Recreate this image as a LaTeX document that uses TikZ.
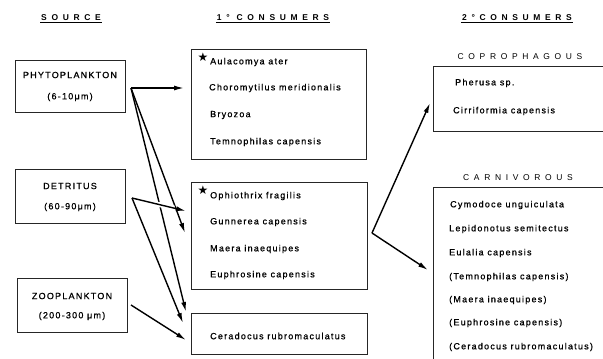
\documentclass[tikz,border=0pt]{standalone}
\usepackage{fontspec}
\setmainfont{Liberation Sans}
\newfontfamily\bodyfont[LetterSpace=14,FakeBold=0.8]{Liberation Sans}
\newfontfamily\headfont[LetterSpace=55]{Liberation Sans}
\newfontfamily\symfont{DejaVu Sans}
\usetikzlibrary{arrows.meta}
\begin{document}
\begin{tikzpicture}[x=1bp,y=-1bp,
  box/.style={draw=black!85,line width=0.9bp,inner sep=0pt},
  txt/.style={inner sep=0pt,font=\bodyfont\fontsize{9}{10}\selectfont},
  spc/.style={txt,anchor=west},
  head/.style={inner sep=1pt,font=\headfont\bfseries\fontsize{8.5}{10}\selectfont},
  subhead/.style={inner sep=1pt,font=\headfont\fontsize{8.5}{10}\selectfont},
  star/.style={inner sep=0pt,font=\symfont\fontsize{12}{13}\selectfont},
  arr/.style={line width=1.4bp,-{Latex[length=10bp,width=5bp]}},
  halo/.style={preaction={draw=white,line width=5bp,-,shorten >=12bp}}]
\useasboundingbox (0,0) rectangle (603,358);
\clip (0,0) rectangle (603,358);
\fill[white] (0,0) rectangle (603,358);

% headings
\node[head] (hsrc) at (71,18) {SOURCE};
\node[head] (hc1) at (273,18) {1° CONSUMERS};
\node[head] (hc2) at (517,18) {2°CONSUMERS};
\foreach \h in {hsrc,hc1,hc2}
  \draw[line width=0.9bp] (\h.south west) -- (\h.south east);

% source boxes
\node[box,minimum width=110bp,minimum height=52bp] (phyto) at (70,86) {};
\node[txt] (phyto1) at (70,75) {PHYTOPLANKTON};
\node[txt] (phyto2) at (70,97) {(6-10μm)};
\node[box,minimum width=110bp,minimum height=54bp] (detr) at (70,196) {};
\node[txt] (detr1) at (70,186) {DETRITUS};
\node[txt] (detr2) at (70,207) {(60-90μm)};
\node[box,minimum width=110bp,minimum height=54bp] (zoo) at (72,305) {};
\node[txt] (zoo1) at (72,296) {ZOOPLANKTON};
\node[txt] (zoo2) at (72,316) {(200-300 μm)};

% primary consumers
\node[box,minimum width=175bp,minimum height=110bp] (c1) at (278.5,104) {};
\node[star] (st1) at (203,57) {★};
\node[spc] (c1a) at (210,62) {Aulacomya ater};
\node[spc] (c1b) at (209,88) {Choromytilus meridionalis};
\node[spc] (c1c) at (210,115) {Bryozoa};
\node[spc] (c1d) at (210,142) {Temnophilas capensis};

\node[box,minimum width=176bp,minimum height=107bp] (c2) at (279,235.5) {};
\node[star] (st2) at (203,190) {★};
\node[spc] (c2a) at (210,196) {Ophiothrix fragilis};
\node[spc] (c2b) at (210,222) {Gunnerea capensis};
\node[spc] (c2c) at (210,249) {Maera inaequipes};
\node[spc] (c2d) at (210,275) {Euphrosine capensis};

\node[box,minimum width=176bp,minimum height=41bp] (c3) at (279,333.5) {};
\node[spc] (c3a) at (210,336) {Ceradocus rubromaculatus};

% secondary consumers
\node[subhead] (hcop) at (520,57) {COPROPHAGOUS};
\node[box,anchor=north west,minimum width=190bp,minimum height=65bp] (cop) at (433,66) {};
\node[spc] (cop1) at (455,83) {Pherusa sp.};
\node[spc] (cop2) at (453,111) {Cirriformia capensis};

\node[subhead] (hcar) at (518,178) {CARNIVOROUS};
\node[box,anchor=north west,minimum width=190bp,minimum height=200bp] (car) at (433,187) {};
\node[spc] (car1) at (450,205) {Cymodoce unguiculata};
\node[spc] (car2) at (449,229) {Lepidonotus semitectus};
\node[spc] (car3) at (449,253) {Eulalia capensis};
\node[spc] (car4) at (449,277) {(Temnophilas capensis)};
\node[spc] (car5) at (449,300) {(Maera inaequipes)};
\node[spc] (car6) at (449,323) {(Euphrosine capensis)};
\node[spc] (car7) at (449,347) {(Ceradocus rubromaculatus)};

% arrow points
\coordinate (po) at (131,88);
\coordinate (do) at (132,198);
\coordinate (zo) at (131,305);
\coordinate (ro) at (372,233);
\coordinate (e1) at (184,88);
\coordinate (e2) at (185,233);
\coordinate (e3) at (186,312);
\coordinate (e4) at (186,211);
\coordinate (e5) at (183,323);
\coordinate (e6) at (186,340);
\coordinate (e7) at (430,103);
\coordinate (e8) at (428,270);

\draw[arr] (po) -- (e1);
\draw[arr] (po) -- (e3);
\draw[arr] (po) -- (e2);
\draw[arr,halo] (do) -- (e4);
\draw[arr] (do) -- (e5);
\draw[arr] (zo) -- (e6);
\draw[arr] (ro) -- (e7);
\draw[arr] (ro) -- (e8);
\end{tikzpicture}
\end{document}
